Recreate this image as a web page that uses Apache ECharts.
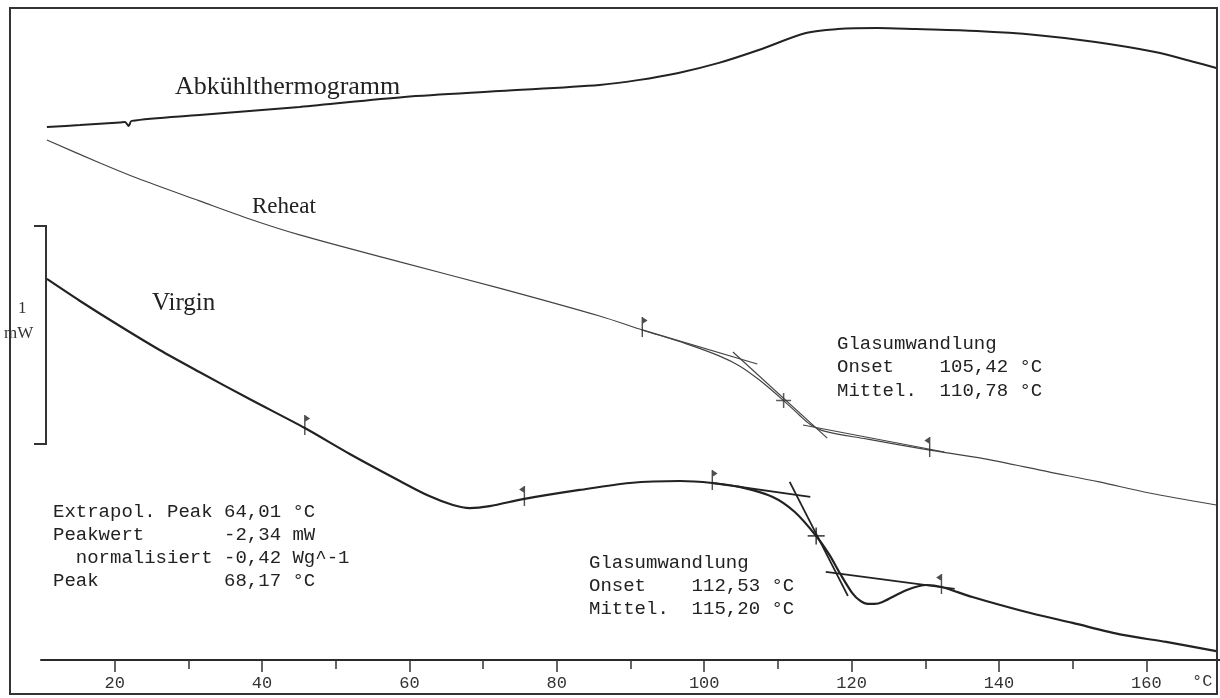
<!DOCTYPE html>
<html>
<head>
<meta charset="utf-8">
<script src="https://cdn.jsdelivr.net/npm/echarts@6/dist/echarts.min.js"></script>
<style>
  html, body { margin: 0; padding: 0; background: #fff; }
  #chart { width: 1220px; height: 698px; }
</style>
</head>
<body>
<div id="chart"></div>
<script>
// DSC thermograms: temperature in °C, heat flow in mW (relative offset, 1 mW scale bar)
const minorTicks = [20, 30, 40, 50, 60, 70, 80, 90, 100, 110, 120, 130, 140, 150, 160];
const majorTicks = [20, 40, 60, 80, 100, 120, 140, 160];

// Cooling run
const abkuehl = [
  [10.8, 2.445], [15.3, 2.454], [20.7, 2.466], [21.4, 2.468], [21.9, 2.450], [22.3, 2.473],
  [31.5, 2.500], [45.1, 2.537], [59.3, 2.583], [72.2, 2.610], [85.8, 2.638], [91.0, 2.660],
  [96.5, 2.693], [102.0, 2.739], [107.4, 2.798], [113.8, 2.876], [118.1, 2.894], [123.5, 2.899],
  [128.8, 2.894], [137.0, 2.885], [145.0, 2.867], [153.1, 2.835], [161.2, 2.789], [166.5, 2.743],
  [169.5, 2.716]
];

// Second heating run
const reheat = [
  [10.8, 2.385], [18.0, 2.280], [23.0, 2.211], [31.5, 2.106], [38.3, 2.023], [45.1, 1.950],
  [58.7, 1.826], [72.2, 1.706], [85.8, 1.578], [91.6, 1.514], [97.6, 1.450], [102.1, 1.394],
  [104.8, 1.349], [107.5, 1.284], [110.78, 1.190], [112.9, 1.124], [114.3, 1.083], [116.3, 1.050],
  [122.0, 1.014], [130.6, 0.963], [137.4, 0.927], [146.9, 0.862], [153.6, 0.817], [160.4, 0.766],
  [169.5, 0.711]
];

// First heating run
const virgin = [
  [10.8, 1.748], [15.3, 1.647], [20.7, 1.532], [26.1, 1.422], [31.5, 1.321], [38.3, 1.197],
  [45.8, 1.064], [51.9, 0.945], [58.7, 0.821], [62.7, 0.752], [65.9, 0.711], [68.17, 0.697],
  [70.9, 0.706], [75.6, 0.739], [83.1, 0.780], [89.9, 0.812], [96.7, 0.821], [101.1, 0.812],
  [104.8, 0.794], [109.3, 0.748], [112.3, 0.679], [115.2, 0.569], [117.0, 0.482], [118.4, 0.399],
  [120.1, 0.307], [121.2, 0.271], [122.2, 0.257], [123.1, 0.257], [124.2, 0.266], [127.5, 0.321],
  [130.2, 0.344], [132.2, 0.335], [136.4, 0.289], [143.2, 0.225], [150.0, 0.170], [156.8, 0.115],
  [162.7, 0.083], [169.5, 0.041]
];

// Glass transition construction lines (pairs of end points)
const reheatTangents = [
  [[91.6, 1.514], [107.2, 1.358]],
  [[103.9, 1.413], [116.7, 1.018]],
  [[113.4, 1.078], [132.6, 0.954]]
];
const virginTangents = [
  [[101.1, 0.812], [114.4, 0.748]],
  [[111.6, 0.817], [119.5, 0.294]],
  [[116.5, 0.404], [134.0, 0.326]]
];

// Midpoint crosses (Mittel.)
const reheatMid = [[110.78, 1.190]];
const virginMid = [[115.20, 0.569]];

// Evaluation limits: start flags and end flags
const startFlags = [[45.8, 1.064], [101.1, 0.812], [91.6, 1.514]];
const endFlags = [[75.6, 0.739], [132.2, 0.335], [130.6, 0.963]];

const peakBlock = [
  'Extrapol. Peak 64,01 °C',
  'Peakwert       -2,34 mW',
  '  normalisiert -0,42 Wg^-1',
  'Peak           68,17 °C'
];
const reheatBlock = ['Glasumwandlung', 'Onset    105,42 °C', 'Mittel.  110,78 °C'];
const virginBlock = ['Glasumwandlung', 'Onset    112,53 °C', 'Mittel.  115,20 °C'];

const INK = '#222';
const MONO = '"Liberation Mono", "DejaVu Sans Mono", monospace';
const SERIF = '"Liberation Serif", "DejaVu Serif", serif';

const plusPath = 'path://M4.5,0 H5.5 V4.5 H10 V5.5 H5.5 V10 H4.5 V5.5 H0 V4.5 H4.5 Z';
const flagRight = 'path://M0,0 L1.4,0 L1.4,0.5 L6,3.5 L1.4,6.5 L1.4,20 L0,20 Z';
const flagLeft = 'path://M4.6,0 L6,0 L6,20 L4.6,20 L4.6,6.5 L0,3.5 L4.6,0.5 Z';

function curve(name, data, width, color) {
  return {
    name, type: 'line', data, showSymbol: false, smooth: 0.3,
    lineStyle: { width, color }, z: 3, silent: true
  };
}
function segments(list, width, color) {
  return list.map(seg => ({
    type: 'line', data: seg, showSymbol: false,
    lineStyle: { width, color }, z: 4, silent: true
  }));
}

function textBlock(lines, x, y0, step) {
  return lines.map((t, i) => ({
    type: 'text', left: x, top: y0 + i * step,
    style: { text: t, font: '19px ' + MONO, fill: INK },
    silent: true
  }));
}

const chart = echarts.init(document.getElementById('chart'), null, { renderer: 'canvas' });

chart.setOption({
  animation: false,
  backgroundColor: '#fff',
  grid: { left: 41, right: 0, top: 6, bottom: 38 },
  xAxis: [{
    type: 'value', min: 10, max: 170,
    axisLine: { show: true, lineStyle: { color: '#2a2a2a', width: 2 } },
    axisTick: { show: true, customValues: minorTicks, length: 9, lineStyle: { color: '#333', width: 1.5 } },
    axisLabel: {
      show: true, customValues: majorTicks, margin: 15,
      fontFamily: MONO, fontSize: 17, color: '#333'
    },
    splitLine: { show: false }
  }, {
    type: 'value', min: 10, max: 170, position: 'bottom',
    axisLine: { show: false },
    axisTick: { show: true, customValues: majorTicks, length: 12, lineStyle: { color: '#333', width: 1.5 } },
    axisLabel: { show: false },
    splitLine: { show: false }
  }],
  yAxis: { type: 'value', min: 0, max: 3, show: false },
  series: [
    curve('Abkühlthermogramm', abkuehl, 2, INK),
    curve('Reheat', reheat, 1.2, '#444'),
    curve('Virgin', virgin, 2.2, INK),
    ...segments(reheatTangents, 1.2, '#444'),
    ...segments(virginTangents, 1.8, INK),
    { type: 'scatter', data: reheatMid, symbol: plusPath, symbolSize: 15, itemStyle: { color: '#333' }, z: 5, silent: true },
    { type: 'scatter', data: virginMid, symbol: plusPath, symbolSize: 17, itemStyle: { color: INK }, z: 5, silent: true },
    { type: 'scatter', data: startFlags, symbol: flagRight, symbolSize: [6, 20], symbolOffset: [2.3, -3], itemStyle: { color: INK }, z: 5, silent: true },
    { type: 'scatter', data: endFlags, symbol: flagLeft, symbolSize: [6, 20], symbolOffset: [-2.3, -3], itemStyle: { color: INK }, z: 5, silent: true }
  ],
  graphic: [
    // curve names
    { type: 'text', left: 175, top: 74, style: { text: 'Abkühlthermogramm', font: '26px ' + SERIF, fill: INK }, silent: true },
    { type: 'text', left: 252, top: 195, style: { text: 'Reheat', font: '23px ' + SERIF, fill: INK }, silent: true },
    { type: 'text', left: 152, top: 291, style: { text: 'Virgin', font: '25px ' + SERIF, fill: INK }, silent: true },
    // 1 mW scale bar
    { type: 'polyline', shape: { points: [[34, 226], [46, 226], [46, 444], [34, 444]] }, style: { stroke: '#333', lineWidth: 2, fill: null }, silent: true },
    { type: 'text', left: 18, top: 300, style: { text: '1', font: '17px ' + SERIF, fill: '#333' }, silent: true },
    { type: 'text', left: 4, top: 325, style: { text: 'mW', font: '17px ' + SERIF, fill: '#333' }, silent: true },
    // unit at the end of the temperature axis
    { type: 'text', left: 1192, top: 673, style: { text: '°C', font: '17px ' + MONO, fill: '#333' }, silent: true },
    // result blocks
    ...textBlock(peakBlock, 53, 502, 23),
    ...textBlock(reheatBlock, 837, 334, 23.5),
    ...textBlock(virginBlock, 589, 553, 23),
    // frame
    { type: 'rect', shape: { x: 10, y: 8, width: 1207, height: 686 }, style: { stroke: '#333', lineWidth: 2, fill: null }, z: 100, silent: true }
  ]
});
</script>
</body>
</html>
